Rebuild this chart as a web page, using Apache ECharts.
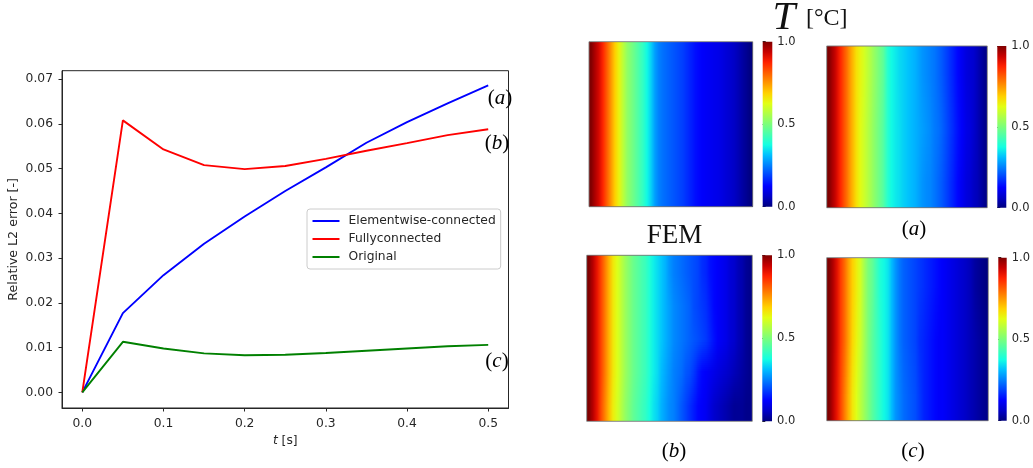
<!DOCTYPE html>
<html><head><meta charset="utf-8">
<style>html,body{margin:0;padding:0;background:#fff}#c{width:1033px;height:468px;filter:blur(0.45px)}</style>
<script src="https://cdn.jsdelivr.net/npm/echarts@6/dist/echarts.min.js"></script>
</head><body><div id="c"></div>
<script>
const times = [0,0.05,0.1,0.15,0.2,0.25,0.3,0.35,0.4,0.45,0.5];
const elementwise = [0,0.0177,0.0262,0.0332,0.0393,0.0450,0.0503,0.0558,0.0604,0.0646,0.0686];
const fully = [0,0.0608,0.0543,0.0508,0.0499,0.0506,0.0522,0.0540,0.0557,0.0575,0.0588];
const original = [0,0.0113,0.0098,0.0087,0.0083,0.0084,0.0088,0.0093,0.0098,0.0103,0.0106];
const xTicks = [0,0.1,0.2,0.3,0.4,0.5];
const yTicks = [0,0.01,0.02,0.03,0.04,0.05,0.06,0.07];

const femRows = [
 [1.00,.96,.92,.87,.81,.75,.69,.64,.58,.53, .50,.47,.44,.41,.37,.33,.28,.25,.235,.225, .215,.205,.195,.185,.17,.155,.14,.13,.12,.115, .11,.105,.10,.09,.08,.07,.06,.045,.03,.015, .00]
];
const aRows = [
 [1.00,.96,.92,.87,.82,.77,.72,.67,.64,.61, .58,.55,.52,.49,.46,.40,.37,.355,.34,.33, .32,.31,.30,.285,.27,.26,.25,.24,.225,.21, .19,.17,.15,.13,.11,.09,.08,.07,.05,.03, .01],
 [1.00,.96,.92,.87,.82,.77,.72,.67,.63,.60, .57,.54,.51,.48,.45,.40,.37,.355,.345,.33, .32,.31,.30,.29,.28,.27,.26,.245,.235,.22, .20,.18,.16,.14,.12,.10,.09,.07,.05,.03, .01],
 [1.00,.96,.92,.87,.82,.77,.72,.67,.63,.60, .57,.54,.51,.48,.45,.40,.37,.355,.345,.33, .32,.31,.30,.285,.27,.26,.255,.24,.225,.21, .19,.17,.15,.13,.11,.09,.08,.06,.05,.03, .01]
];
const bRows = [
 [1.00,.95,.90,.84,.78,.72,.66,.62,.58,.54, .51,.48,.46,.44,.42,.39,.36,.34,.32,.30, .27,.25,.24,.23,.22,.21,.20,.19,.17,.16, .14,.13,.12,.11,.10,.08,.07,.05,.04,.02, .01],
 [1.00,.95,.90,.84,.78,.72,.66,.62,.58,.54, .51,.48,.46,.44,.42,.39,.36,.34,.32,.30, .28,.26,.25,.24,.23,.22,.20,.19,.18,.17, .15,.13,.12,.11,.10,.08,.07,.05,.04,.02, .01],
 [1.00,.95,.90,.84,.78,.72,.66,.62,.58,.54, .51,.48,.46,.44,.42,.39,.36,.34,.32,.30, .28,.26,.25,.24,.23,.22,.21,.20,.19,.18, .16,.14,.12,.11,.10,.08,.07,.05,.04,.02, .01],
 [1.00,.95,.90,.84,.78,.72,.66,.62,.58,.54, .51,.48,.46,.44,.42,.39,.36,.34,.31,.29, .27,.25,.24,.23,.21,.20,.18,.15,.13,.12, .11,.10,.09,.08,.07,.06,.05,.04,.03,.02, .01],
 [1.00,.95,.90,.83,.77,.71,.65,.61,.57,.53, .50,.47,.45,.43,.41,.38,.35,.33,.30,.28, .26,.25,.23,.21,.19,.17,.15,.13,.12,.11, .09,.07,.06,.05,.04,.03,.02,.02,.02,.01, .01]
];
const cRows = [
 [1.00,.96,.91,.85,.80,.74,.69,.65,.61,.55, .50,.47,.43,.39,.37,.35,.31,.27,.24,.22, .21,.20,.19,.18,.17,.16,.15,.14,.13,.12, .11,.10,.09,.08,.07,.06,.05,.03,.02,.01, .00],
 [1.00,.96,.91,.85,.80,.74,.68,.64,.60,.55, .50,.46,.43,.40,.37,.35,.31,.27,.24,.22, .21,.20,.19,.17,.16,.15,.14,.13,.12,.12, .11,.10,.09,.08,.07,.06,.05,.04,.03,.02, .01],
 [1.00,.95,.90,.84,.78,.72,.66,.62,.58,.54, .50,.46,.43,.40,.37,.35,.31,.27,.25,.23, .22,.21,.20,.18,.16,.15,.14,.13,.12,.12, .11,.10,.09,.08,.07,.06,.05,.04,.03,.02, .01]
];
const jet = ['#00007f','#0000c8','#0000ff','#0040ff','#0080ff','#00bfff','#14ffe2','#48ffaf','#7bff7b','#afff48','#e2ff14','#ffd200','#ff9700','#ff5c00','#ff2100','#c80000','#7f0000'];
const barTicks = 0.5;

// panel layout: heat box [x0,x1,y0,y1], colour bar [x0,x1]
const panels = [
 {rows:femRows, box:[589,752.7,41.7,206.7], bar:[762.7,772.3]},
 {rows:aRows,   box:[826.7,987.3,46,207.7], bar:[997.3,1006.3]},
 {rows:bRows,   box:[586.7,752.3,255.3,421.3], bar:[762.3,772]},
 {rows:cRows,   box:[826.7,988.3,257.7,420.7], bar:[998.3,1006.7]}
];
const W=1033,H=468;
const dj='"DejaVu Sans"', serif='"Liberation Serif"';
const ink='#262626';

const colorOf=v=>echarts.color.lerp(Math.min(1,Math.max(0,v)),jet);
function fieldImage(rows){
  const cv=document.createElement('canvas');
  cv.width=rows[0].length; cv.height=rows.length;
  const ctx=cv.getContext('2d');
  rows.forEach((r,j)=>r.forEach((v,i)=>{ctx.fillStyle=colorOf(v);ctx.fillRect(i,j,1,1);}));
  return cv;
}
const grid=[{left:62,right:W-508.5,top:70.7,bottom:H-408,show:true,borderColor:ink,borderWidth:1,backgroundColor:'#fff'}];
const xAxis=[{type:'value',gridIndex:0,min:-0.025,max:0.525,splitLine:{show:false},
  axisLine:{onZero:false,lineStyle:{color:ink}},axisTick:{length:3.5,lineStyle:{color:ink},customValues:xTicks},
  axisLabel:{color:ink,fontFamily:dj,fontSize:12.3,margin:10,customValues:xTicks,formatter:v=>v.toFixed(1)},
  name:'{i|t} [s]',nameLocation:'middle',nameGap:27,
  nameTextStyle:{color:ink,fontFamily:dj,fontSize:12.3,rich:{i:{fontStyle:'italic',fontFamily:dj,fontSize:12.3,color:ink}}}}];
const yAxis=[{type:'value',gridIndex:0,min:-0.0035,max:0.0719,splitLine:{show:false},
  axisLine:{show:true,onZero:false,lineStyle:{color:ink}},axisTick:{show:true,length:3.5,lineStyle:{color:ink},customValues:yTicks},
  axisLabel:{color:ink,fontFamily:dj,fontSize:12.3,margin:9,customValues:yTicks,formatter:v=>v.toFixed(2)},
  name:'Relative L2 error [-]',nameLocation:'middle',nameGap:42,
  nameTextStyle:{color:ink,fontFamily:dj,fontSize:12.6}}];
const series=[
 {name:'Elementwise-connected',type:'line',xAxisIndex:0,yAxisIndex:0,data:times.map((t,i)=>[t,elementwise[i]]),symbol:'none',lineStyle:{color:'#0000ff',width:1.9},itemStyle:{color:'#0000ff'},z:3},
 {name:'Fullyconnected',type:'line',xAxisIndex:0,yAxisIndex:0,data:times.map((t,i)=>[t,fully[i]]),symbol:'none',lineStyle:{color:'#ff0000',width:1.9},itemStyle:{color:'#ff0000'},z:4},
 {name:'Original',type:'line',xAxisIndex:0,yAxisIndex:0,data:times.map((t,i)=>[t,original[i]]),symbol:'none',lineStyle:{color:'#008000',width:1.9},itemStyle:{color:'#008000'},z:5}
];
const graphic=[];
const barGradient=new echarts.graphic.LinearGradient(0,1,0,0,jet.map((c,i)=>({offset:i/(jet.length-1),color:c})));
panels.forEach(p=>{
  const [x0,x1,y0,y1]=p.box;
  const gi=grid.length;
  grid.push({left:x0,width:x1-x0,top:y0,height:y1-y0});
  xAxis.push({type:'value',gridIndex:gi,show:false,min:0,max:1});
  yAxis.push({type:'value',gridIndex:gi,show:false,min:0,max:1});
  const img=fieldImage(p.rows);
  series.push({type:'custom',xAxisIndex:gi,yAxisIndex:gi,silent:true,animation:false,data:[[0,1,1,0]],z:2,
    renderItem:(params,api)=>{
      const a=api.coord([api.value(0),api.value(1)]), b=api.coord([api.value(2),api.value(3)]);
      return {type:'image',style:{image:img,x:a[0],y:a[1],width:b[0]-a[0],height:b[1]-a[1]}};
    }});
  graphic.push({type:'rect',silent:true,z:50,shape:{x:x0,y:y0,width:x1-x0,height:y1-y0},style:{fill:'none',stroke:'#777',lineWidth:0.9}});
  const gb=grid.length;
  grid.push({left:p.bar[0],width:p.bar[1]-p.bar[0],top:y0,height:y1-y0});
  xAxis.push({type:'value',gridIndex:gb,show:false,min:0,max:1});
  yAxis.push({type:'value',gridIndex:gb,position:'right',min:0,max:1,interval:barTicks,splitLine:{show:false},
    axisLine:{show:false},axisTick:{show:true,length:3,lineStyle:{color:ink}},
    axisLabel:{color:ink,fontFamily:dj,fontSize:11.5,margin:5,formatter:v=>v.toFixed(1),showMinLabel:true,showMaxLabel:true}});
  series.push({type:'custom',xAxisIndex:gb,yAxisIndex:gb,silent:true,animation:false,data:[[0,1,1,0]],z:2,
    renderItem:(params,api)=>{
      const a=api.coord([api.value(0),api.value(1)]), b=api.coord([api.value(2),api.value(3)]);
      return {type:'rect',shape:{x:a[0],y:a[1],width:b[0]-a[0],height:b[1]-a[1]},style:{fill:barGradient}};
    }});
});
const lab=(letter,x,y,s)=>({type:'text',silent:true,z:60,x,y,style:{text:'{p|(}{i|'+letter+'}{p|)}',align:'center',verticalAlign:'middle',rich:{p:{fontFamily:serif,fontSize:s,color:'#111'},i:{fontFamily:serif,fontSize:s,fontStyle:'italic',color:'#111'}}}});
graphic.push(lab('a',500,98,21),lab('b',497,143,21),lab('c',497,361,21));
graphic.push(lab('a',914,229,21),lab('b',674,451,21),lab('c',913,451,21));
graphic.push({type:'text',silent:true,z:60,x:674.5,y:236,style:{text:'FEM',font:'27px '+serif,fill:'#111',align:'center',verticalAlign:'middle'}});
graphic.push({type:'text',silent:true,z:60,x:784,y:18,style:{text:'T',font:'italic 41px '+serif,fill:'#111',align:'center',verticalAlign:'middle'}});
graphic.push({type:'text',silent:true,z:60,x:806,y:19,style:{text:'[°C]',font:'24px '+serif,fill:'#111',align:'left',verticalAlign:'middle'}});

const chart=echarts.init(document.getElementById('c'),null,{renderer:'canvas'});
chart.setOption({animation:false,backgroundColor:'#fff',tooltip:{show:false},
 grid,xAxis,yAxis,series,graphic,
 legend:{show:true,data:['Elementwise-connected','Fullyconnected','Original'],orient:'vertical',left:307,top:209,
  padding:[6,5,6,4.5],itemWidth:27,itemHeight:14,itemGap:6,itemStyle:{opacity:0},
  backgroundColor:'rgba(255,255,255,0.8)',borderColor:'#ccc',borderWidth:1,borderRadius:3,selectedMode:false,
  textStyle:{color:ink,fontFamily:dj,fontSize:12.3,padding:[0,0,0,4]}}
});
</script></body></html>
